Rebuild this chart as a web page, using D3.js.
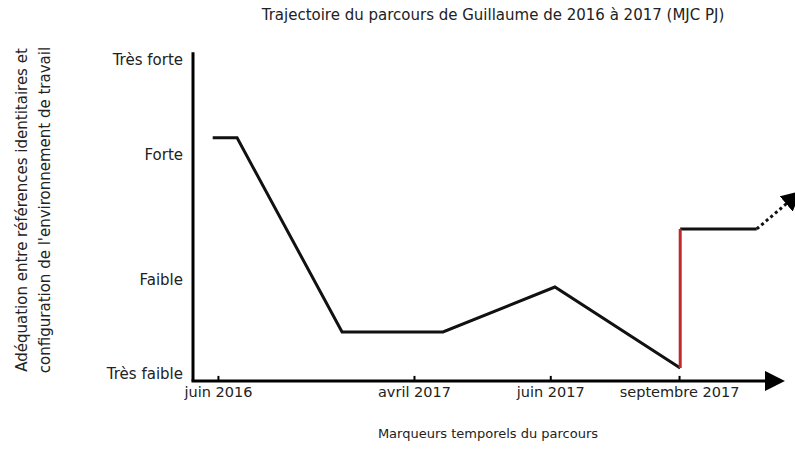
<!DOCTYPE html>
<html>
<head>
<meta charset="utf-8">
<script src="https://cdn.jsdelivr.net/npm/d3@7"></script>
<style>
  body { margin: 0; background: #fff; }
  text { font-family: "DejaVu Sans", sans-serif; fill: #222; }
</style>
</head>
<body>
<svg id="chart" width="795" height="450"></svg>
<script>
// level scale: 0 = très faible ... 10 = très forte
const levelNames = ['Très faible', 'Faible', 'Forte', 'Très forte'];
const levelValues = [0, 3, 7, 10];

// time markers, position along the (non-linear) time axis
const markerNames = ['juin 2016', 'avril 2017', 'juin 2017', 'septembre 2017'];
const markerPos = [4.3, 38.1, 61.6, 83.8];

// trajectory
const pathX = [3.4, 7.6, 25.7, 43.1, 62.4, 84.0];
const pathY = [7.52, 7.52, 1.34, 1.34, 2.77, 0.19];
// rupture (red) then new plateau
const ruptureX = [84.0, 84.0];
const ruptureY = [0.19, 4.62];
const plateauX = [84.0, 97.2];
const plateauY = [4.62, 4.62];
// uncertain continuation
const futureX = [97.2, 102.8];
const futureY = [4.62, 5.5];

const svg = d3.select('#chart');

const x = d3.scaleLinear().domain([0, 100]).range([193, 773]);
const y = d3.scaleLinear().domain([0, 10]).range([374, 60]);

const defs = svg.append('defs');
defs.append('marker')
    .attr('id', 'arrow')
    .attr('viewBox', '0 0 10 10')
    .attr('refX', 2)
    .attr('refY', 5)
    .attr('markerUnits', 'userSpaceOnUse')
    .attr('markerWidth', 20)
    .attr('markerHeight', 20)
    .attr('orient', 'auto')
  .append('path')
    .attr('d', 'M0,0 L10,5 L0,10 Z')
    .attr('fill', '#000');

// title
svg.append('text')
    .attr('x', 493)
    .attr('y', 20)
    .attr('text-anchor', 'middle')
    .style('font-size', '15px')
    .text('Trajectoire du parcours de Guillaume de 2016 à 2017 (MJC PJ)');

// y axis
const yAxis = d3.axisLeft(y)
    .tickValues(levelValues)
    .tickFormat((d, i) => levelNames[i])
    .tickSize(0)
    .tickPadding(10);

svg.append('g')
    .attr('transform', `translate(${x(0)},0)`)
    .call(yAxis)
    .call(g => g.select('.domain').remove())
    .call(g => g.selectAll('text')
      .style('font-family', '"DejaVu Sans", sans-serif')
      .style('font-size', '15px')
      .attr('fill', '#222'));

svg.append('line')
    .attr('x1', x(0)).attr('x2', x(0))
    .attr('y1', y(-0.22)).attr('y2', y(10.25))
    .attr('stroke', '#000')
    .attr('stroke-width', 3);

// x axis
const xAxis = d3.axisBottom(x)
    .tickValues(markerPos)
    .tickFormat((d, i) => markerNames[i])
    .tickSizeInner(-5)
    .tickSizeOuter(0)
    .tickPadding(6);

svg.append('g')
    .attr('transform', `translate(0,${y(-0.22)})`)
    .call(xAxis)
    .call(g => g.select('.domain').remove())
    .call(g => g.selectAll('.tick line').attr('stroke', '#000').attr('stroke-width', 2))
    .call(g => g.selectAll('text')
      .style('font-family', '"DejaVu Sans", sans-serif')
      .style('font-size', '14.5px')
      .attr('fill', '#222'));

svg.append('line')
    .attr('x1', x(0) - 1.5).attr('x2', x(99.3))
    .attr('y1', y(-0.22)).attr('y2', y(-0.22))
    .attr('stroke', '#000')
    .attr('stroke-width', 3)
    .attr('marker-end', 'url(#arrow)');

// axis titles
svg.append('text')
    .attr('x', 488)
    .attr('y', 438)
    .attr('text-anchor', 'middle')
    .style('font-size', '13px')
    .text('Marqueurs temporels du parcours');

const yTitle = svg.append('text')
    .attr('transform', 'translate(0,210) rotate(-90)')
    .attr('text-anchor', 'middle')
    .style('font-size', '15px');
yTitle.append('tspan').attr('x', 0).attr('y', 27)
    .text('Adéquation entre références identitaires et');
yTitle.append('tspan').attr('x', 0).attr('y', 50)
    .text('configuration de l\'environnement de travail');

// trajectory
const line = d3.line()
    .x(d => x(d[0]))
    .y(d => y(d[1]));

const draw = (xs, ys, color, extra) => svg.append('path')
    .datum(d3.zip(xs, ys))
    .attr('d', line)
    .attr('fill', 'none')
    .attr('stroke', color)
    .attr('stroke-width', 3)
    .attr('stroke-linejoin', 'miter')
    .call(extra || (() => {}));

draw(pathX, pathY, '#111');
draw(plateauX, plateauY, '#111');
draw(ruptureX, ruptureY, '#c0282b');
draw(futureX, futureY, '#111', p => p
    .attr('stroke-dasharray', '3,3')
    .attr('marker-end', 'url(#arrow)'));
</script>
</body>
</html>
